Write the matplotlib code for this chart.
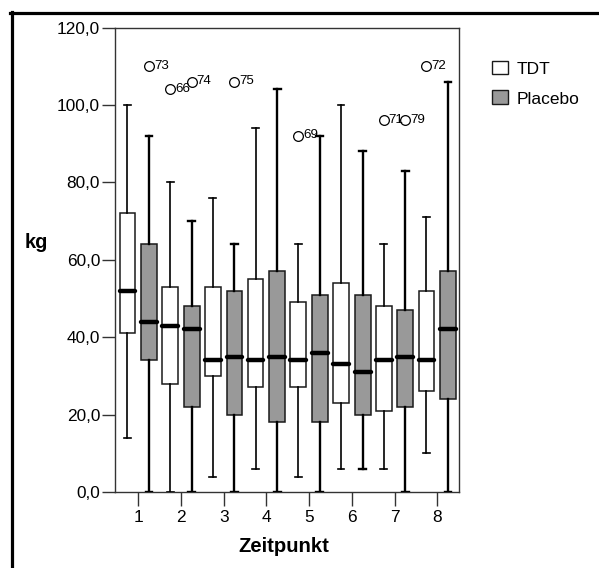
import matplotlib
matplotlib.use("Agg")
import matplotlib.pyplot as plt
from matplotlib.lines import Line2D
from matplotlib.patches import Rectangle

plt.rcParams['font.family'] = ['Liberation Sans', 'DejaVu Sans']

# ---------------- data ----------------
zeitpunkte = [1, 2, 3, 4, 5, 6, 7, 8]
series_names = ["TDT", "Placebo"]

tdt_low = [14, 0, 4, 6, 4, 6, 6, 10]
tdt_q1 = [41, 28, 30, 27, 27, 23, 21, 26]
tdt_med = [52, 43, 34, 34, 34, 33, 34, 34]
tdt_q3 = [72, 53, 53, 55, 49, 54, 48, 52]
tdt_high = [100, 80, 76, 94, 64, 100, 64, 71]

pla_low = [0, 0, 0, 0, 0, 6, 0, 0]
pla_q1 = [34, 22, 20, 18, 18, 20, 22, 24]
pla_med = [44, 42, 35, 35, 36, 31, 35, 42]
pla_q3 = [64, 48, 52, 57, 51, 51, 47, 57]
pla_high = [92, 70, 64, 104, 92, 88, 83, 106]

# outliers: (zeitpunkt, series index, value, case label)
outlier_time = [1, 2, 2, 3, 5, 7, 7, 8]
outlier_series = [1, 0, 1, 1, 0, 0, 1, 0]
outlier_value = [110, 104, 106, 106, 92, 96, 96, 110]
outlier_label = ["73", "66", "74", "75", "69", "71", "79", "72"]

yticks = [0, 20, 40, 60, 80, 100, 120]
ytick_labels = ["0,0", "20,0", "40,0", "60,0", "80,0", "100,0", "120,0"]

# ---------------- figure ----------------
W, H = 599, 568
fig = plt.figure(figsize=(W / 100, H / 100), dpi=100)
fig.patch.set_facecolor("white")

def fx(px):
    return px / W

def fy(py):
    return 1 - py / H

ax = fig.add_axes([fx(115), fy(492), fx(459) - fx(115), fy(27.5) - fy(492)])

offset = 0.253
bw = 0.37
fill = ["white", "#999999"]
whisk_lw = [1.2, 1.7]

series = [
    (tdt_low, tdt_q1, tdt_med, tdt_q3, tdt_high),
    (pla_low, pla_q1, pla_med, pla_q3, pla_high),
]

for s, (lo, q1, med, q3, hi) in enumerate(series):
    stats = []
    for i in range(len(zeitpunkte)):
        fl = [v for t, ss, v in zip(outlier_time, outlier_series, outlier_value)
              if ss == s and t == zeitpunkte[i]]
        stats.append(dict(whislo=lo[i], q1=q1[i], med=med[i], q3=q3[i],
                          whishi=hi[i], fliers=fl))
    pos = [z + (offset if s == 1 else -offset) for z in zeitpunkte]
    ax.bxp(stats, positions=pos, widths=bw, patch_artist=True,
           capwidths=0.16, manage_ticks=False,
           boxprops=dict(facecolor=fill[s], edgecolor="#1a1a1a", linewidth=1.1),
           medianprops=dict(color="black", linewidth=3.2, solid_capstyle="round"),
           whiskerprops=dict(color="black", linewidth=whisk_lw[s]),
           capprops=dict(color="black", linewidth=whisk_lw[s]),
           flierprops=dict(marker="o", markerfacecolor="none",
                           markeredgecolor="black", markersize=7,
                           markeredgewidth=0.9, linestyle="none"),
           zorder=3)

for t, s, v, lab in zip(outlier_time, outlier_series, outlier_value, outlier_label):
    x = t + (offset if s == 1 else -offset)
    ax.annotate(lab, xy=(x, v), xytext=(3.6, 0.5), textcoords="offset points",
                ha="left", va="center", fontsize=9.6, zorder=4)

ax.set_xlim(0.455, 8.51)
ax.set_ylim(0, 120)
ax.set_xticks(zeitpunkte)
ax.set_xticklabels([str(z) for z in zeitpunkte], fontsize=12.4)
ax.set_yticks(yticks)
ax.set_yticklabels(ytick_labels, fontsize=12.4)
ax.tick_params(axis="x", direction="out", length=10, width=1.0, pad=3.2, color="#333333")
ax.tick_params(axis="y", direction="out", length=9.4, width=1.0, pad=1.4, color="#333333")
for sp in ax.spines.values():
    sp.set_linewidth(1.0)
    sp.set_color("#333333")

fig.text(fx(283.7), fy(551.7), "Zeitpunkt", ha="center", va="baseline",
         fontsize=14.6, fontweight="bold")
fig.text(fx(25), fy(248), "kg", ha="left", va="baseline",
         fontsize=14.4, fontweight="bold")

# legend (manual)
leg_y_base = [74.3, 104]
leg_box_top = [60.7, 90.3]
for s, name in enumerate(series_names):
    fig.add_artist(Rectangle((fx(491.7), fy(leg_box_top[s] + 13.5)), fx(16), 13.5 / H,
                             transform=fig.transFigure, facecolor=fill[s],
                             edgecolor="#1a1a1a", linewidth=1.0))
    fig.text(fx(517), fy(leg_y_base[s]), name, ha="left", va="baseline", fontsize=12.5)

# outer border (top and left visible)
fig.add_artist(Line2D([fx(10.2), 1.0], [fy(13.3), fy(13.3)], transform=fig.transFigure,
                      color="black", linewidth=2.3))
fig.add_artist(Line2D([fx(11.7), fx(11.7)], [fy(12.2), 0.0], transform=fig.transFigure,
                      color="black", linewidth=2.3))

fig.savefig("out.png", dpi=100, facecolor="white")
